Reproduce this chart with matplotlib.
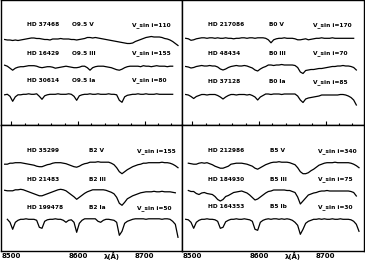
import numpy as np
import matplotlib
matplotlib.use("Agg")
import matplotlib.pyplot as plt
from matplotlib.ticker import MultipleLocator

nan = float("nan")

# wavelength grid (Angstrom)
wave = [8490 + 4 * k for k in range(66)]

# normalized flux (% of continuum)
tl_1 = [100, 99, 99, 98, 99, 98, 99, 100, 101, 102,
        103, 103, 102, 102, 101, 100, 100, 99, 101, 101,
        101, 102, 101, 101, 101, 100, 100, 99, 100, 101,
        102, 104, 104, 103, 104, 103, 102, 101, 100, 99,
        98, 97, 96, 95, 94, 93, 92, 92, 93, 96,
        98, 100, 102, 104, 105, 106, 105, 105, 105, 104,
        102, 101, 99, 96, 92, 88]
tl_2 = [103, 101, 97, 93, 97, 99, 100, 100, 101, 102,
        102, 102, 101, 99, 98, 99, 100, 100, 99, 97,
        98, 99, 100, 101, 100, 99, 98, 98, 99, 101,
        101, 98, 93, 98, 100, 101, 101, 101, 100, 99,
        98, 96, 94, 93, 95, 98, 100, 101, 101, 101,
        101, 100, 102, 101, 101, 100, 101, 102, 101, 101,
        101, 100, 101, 101, nan, nan]
tl_3 = [99, 100, 96, 86, 95, 99, 99, 100, 100, 101,
        100, 100, 101, 96, 90, 97, 99, 100, 100, 100,
        101, 100, 100, 100, 101, 100, 96, 88, 97, 99,
        100, 100, 101, 100, 100, 101, 100, 100, 100, 101,
        100, 100, 99, 88, 84, 95, 98, 99, 100, 100,
        101, 100, 100, 101, 100, 100, 100, 101, 100, 100,
        100, 100, 100, 100, nan, nan]
tr_1 = [100, 99, 96, 97, 99, 100, 101, 101, 100, 101,
        101, 100, 101, 100, 100, 101, 100, 100, 99, 100,
        100, 101, 101, 100, 101, 101, 100, 101, 101, 101,
        100, 97, 91, 97, 99, 100, 100, 101, 100, 100,
        100, 99, 97, 97, 98, 99, 97, 98, 99, 100,
        100, 101, 100, 100, 100, 101, 100, 100, 100, 100,
        100, 100, 100, 100, nan, nan]
tr_2 = [99, 98, 96, 97, 99, 100, 101, 100, 100, 101,
        100, 100, 98, 94, 92, 94, 97, 99, 100, 101,
        100, 100, 101, 100, 98, 96, 92, 90, 94, 97,
        99, 102, 102, 101, 102, 102, 103, 102, 102, 102,
        102, 101, 97, 88, 85, 91, 92, 93, 93, 94,
        95, 95, 96, 97, 98, 99, 99, 100, 100, 101,
        100, 100, 99, 97, 92, nan]
tr_3 = [101, 100, 97, 93, 97, 99, 101, 101, 100, 101,
        101, 101, 99, 96, 92, 96, 99, 101, 101, 100,
        101, 101, 101, 100, 101, 99, 96, 90, 96, 99,
        102, 102, 101, 102, 102, 102, 101, 102, 102, 102,
        102, 102, 98, 90, 85, 92, 94, 95, 96, 97,
        98, 100, 100, 100, 100, 100, 100, 100, 101, 101,
        100, 98, 95, 90, 80, nan]
bl_1 = [97, 97, 99, 99, 100, 100, 100, 99, 98, 97,
        96, 95, 93, 92, 92, 94, 96, 97, 99, 100,
        100, 100, 99, 98, 96, 94, 92, 91, 93, 96,
        98, 99, 101, 101, 101, 102, 101, 101, 101, 101,
        99, 96, 90, 82, 78, 82, 86, 89, 92, 94,
        96, 97, 99, 99, 100, 100, 100, 100, 100, 101,
        100, 100, 99, 97, 94, 90]
bl_2 = [100, 99, 99, 99, 101, 101, 102, 101, 99, 97,
        95, 93, 91, 89, 89, 91, 93, 95, 97, 99,
        101, 102, 101, 99, 95, 91, 87, 82, 86, 90,
        94, 97, 99, 101, 101, 101, 101, 101, 100, 98,
        96, 93, 86, 74, 70, 76, 83, 86, 89, 91,
        93, 95, 96, 97, 97, 97, 98, 97, 97, 98,
        97, 97, 97, 96, 95, nan]
bl_3 = [nan, 100, 94, 80, 94, 98, 100, 100, 101, 100,
        100, 100, 98, 84, 82, 96, 99, 100, 100, 101,
        100, 100, 98, 94, 98, 99, 94, 74, 92, 98,
        101, 101, 101, 101, 101, 96, 94, 98, 100, 100,
        99, 98, 94, 68, 76, 92, 96, 98, 100, 101,
        101, 101, 101, 100, 101, 101, 101, 101, 101, 100,
        101, 101, 100, 96, 90, 64]
br_1 = [nan, 99, 98, 97, 97, 99, 100, 99, 100, 98,
        96, 93, 91, 89, 89, 91, 93, 97, 98, 99,
        99, 99, 98, 97, 95, 93, 89, 87, 90, 93,
        96, 98, 100, 101, 101, 102, 101, 101, 101, 100,
        98, 96, 90, 82, 78, 78, 80, 84, 87, 91,
        95, 97, 99, 100, 100, 100, 101, 100, 100, 100,
        100, 100, 99, 97, 94, 90]
br_2 = [nan, 101, 99, 99, 95, 93, 96, 97, 95, 94,
        93, 89, 83, 80, 83, 89, 91, 94, 97, 98,
        99, 100, 98, 96, 92, 87, 82, 84, 88, 92,
        96, 99, 100, 102, 102, 102, 102, 102, 101, 101,
        99, 97, 88, 74, 80, 86, 92, 94, 96, 97,
        99, 100, 100, 101, 100, 100, 100, 100, 100, 100,
        100, 100, 99, 97, 90, nan]
br_3 = [100, 99, 94, 82, 94, 98, 100, 100, 101, 100,
        100, 99, 96, 82, 84, 95, 98, 100, 100, 101,
        100, 100, 101, 100, 99, 96, 80, 78, 94, 98,
        100, 101, 100, 101, 101, 100, 101, 100, 101, 100,
        98, 94, 88, 70, 80, 92, 96, 98, 100, 100,
        101, 100, 101, 100, 100, 101, 100, 100, 101, 100,
        100, 100, 99, 96, 90, 76]

# labels
tl_stars = ["HD 37468", "HD 16429", "HD 30614"]
tl_types = ["O9.5 V", "O9.5 III", "O9.5 Ia"]
tl_vsini = ["V_sin i=110", "V_sin i=155", "V_sin i=80"]
tr_stars = ["HD 217086", "HD 48434", "HD 37128"]
tr_types = ["B0 V", "B0 III", "B0 Ia"]
tr_vsini = ["V_sin i=170", "V_sin i=70", "V_sin i=85"]
bl_stars = ["HD 35299", "HD 21483", "HD 199478"]
bl_types = ["B2 V", "B2 III", "B2 Ia"]
bl_vsini = ["V_sin i=155", "", "V_sin i=50"]
br_stars = ["HD 212986", "HD 184930", "HD 164353"]
br_types = ["B5 V", "B5 III", "B5 Ib"]
br_vsini = ["V_sin i=340", "V_sin i=75", "V_sin i=30"]

tick_labels = ["8500", "8600", "8700"]
xlabel = "λ(Å)"

W, H = 365, 262
fig = plt.figure(figsize=(W / 100, H / 100), dpi=100)

panels = [
    (1, 0, 181, 125, [tl_1, tl_2, tl_3], [39.5, 66.7, 94.3], [25, 53.3, 80],
     tl_stars, tl_types, tl_vsini, 8591, 8681, False),
    (182, 0, 182, 125, [tr_1, tr_2, tr_3], [38.3, 66.0, 95.0], [25, 53.3, 81.7],
     tr_stars, tr_types, tr_vsini, 8615, 8681, False),
    (1, 125, 181, 126, [bl_1, bl_2, bl_3], [37.7, 65.3, 94.3], [26, 54.3, 82.7],
     bl_stars, bl_types, bl_vsini, 8617, 8688, True),
    (182, 125, 182, 126, [br_1, br_2, br_3], [37.7, 66.0, 94.3], [26, 54.3, 82.0],
     br_stars, br_types, br_vsini, 8617, 8688, True),
]

x0 = 8484.5
for (lp, tp, wp, hp, specs, conts, labs, stars, types, vs, tx, vx, bottom) in panels:
    ax = fig.add_axes([lp / W, (H - tp - hp) / H, wp / W, hp / H])
    ymax = 2.0 * hp
    ax.set_ylim(0, ymax)
    ax.set_xlim(x0, x0 + 1.5 * wp)
    for s, pc, py, st, ty, v in zip(specs, conts, labs, stars, types, vs):
        off = ymax - 2 * pc - 100
        ax.plot(wave, np.array(s, dtype=float) + off, color="black", lw=0.9)
        yl = ymax - 2 * py
        kw = dict(fontsize=4.2, fontweight="bold", va="center", ha="left",
                  family="DejaVu Sans")
        ax.text(8524, yl, st, **kw)
        ax.text(tx, yl, ty, **kw)
        if v:
            ax.text(vx, yl, v, **kw)
    ax.set_yticks([])
    if bottom:
        ax.set_xticks([8500, 8600, 8700])
        ax.set_xticklabels(tick_labels, fontweight="bold")
        ax.tick_params(axis="x", which="both", length=0, labelsize=5.0, pad=1.2)
        ax.annotate(xlabel, xy=(8650, 0), xycoords=("data", "axes fraction"),
                    xytext=(0, -3.6), textcoords="offset points",
                    fontsize=5.0, fontweight="bold", ha="center", va="center",
                    annotation_clip=False)
    else:
        ax.xaxis.set_major_locator(MultipleLocator(100))
        ax.xaxis.set_minor_locator(MultipleLocator(20))
        ax.tick_params(axis="x", which="major", direction="in", length=3,
                       width=0.8, top=False, labelbottom=False)
        ax.tick_params(axis="x", which="minor", direction="in", length=1.8,
                       width=0.8, top=False)
    for sp in ax.spines.values():
        sp.set_linewidth(1.0)

fig.savefig("out.png", dpi=100)
